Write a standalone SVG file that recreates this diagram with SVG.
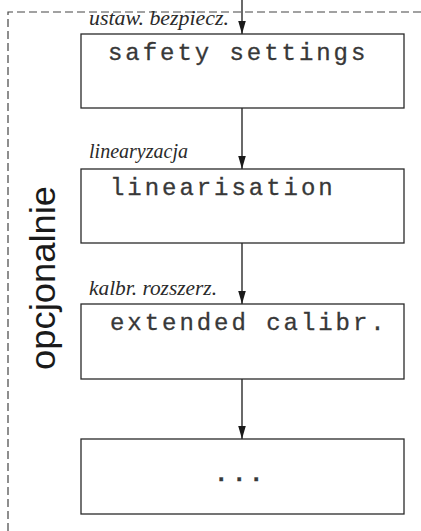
<svg xmlns="http://www.w3.org/2000/svg" width="421" height="531" viewBox="0 0 421 531">
<style>
.box{fill:#fff;stroke:#2a2a2a;stroke-width:1.3}
.lcd{font-family:"Liberation Mono","DejaVu Sans Mono",monospace;font-size:24px;letter-spacing:2.95px;fill:#383838;stroke:#383838;stroke-width:0.3}
.lab{font-family:"Liberation Serif","DejaVu Serif",serif;font-style:italic;font-size:21px;fill:#2a2a2a}
.con{stroke:#1a1a1a;stroke-width:1.3;fill:none;marker-end:url(#ah)}
.frame{fill:none;stroke:#444;stroke-width:1.2;stroke-dasharray:8 4}
</style>
<defs>
<marker id="ah" markerUnits="userSpaceOnUse" markerWidth="13" markerHeight="8" refX="12" refY="3.5" orient="auto" viewBox="0 0 12 7">
<path d="M0,0 L12,3.5 L0,7 Z" fill="#1a1a1a"/>
</marker>
</defs>
<rect width="421" height="531" fill="#fff"/>
<path class="frame" d="M421,12 H8 V531"/>
<text transform="translate(55,278) rotate(-90)" text-anchor="middle" font-family="'Liberation Sans',Arial,sans-serif" font-size="35" fill="#1a1a1a" textLength="184" lengthAdjust="spacingAndGlyphs">opcjonalnie</text>
<g id="connectors">
<line class="con" x1="242" y1="0" x2="242" y2="34"/>
<line class="con" x1="242" y1="108" x2="242" y2="169"/>
<line class="con" x1="242" y1="243" x2="242" y2="304"/>
<line class="con" x1="242" y1="379" x2="242" y2="439"/>
</g>
<g id="node1">
<text class="lab" x="89" y="25" textLength="140" lengthAdjust="spacingAndGlyphs">ustaw. bezpiecz.</text>
<rect class="box" x="81" y="34" width="323" height="74"/>
<text class="lcd" x="108" y="60">safety settings</text>
</g>
<g id="node2">
<text class="lab" x="89" y="158" textLength="99" lengthAdjust="spacingAndGlyphs">linearyzacja</text>
<rect class="box" x="81" y="169" width="323" height="74"/>
<text class="lcd" x="110" y="195">linearisation</text>
</g>
<g id="node3">
<text class="lab" x="89" y="295" textLength="128" lengthAdjust="spacingAndGlyphs">kalbr. rozszerz.</text>
<rect class="box" x="81" y="304" width="323" height="75"/>
<text class="lcd" x="110" y="330">extended calibr.</text>
</g>
<g id="node4">
<rect class="box" x="81" y="439" width="323" height="75"/>
<text class="lcd" x="214 232 249" y="481" font-size="30" font-weight="bold" letter-spacing="0">...</text>
</g>
</svg>
